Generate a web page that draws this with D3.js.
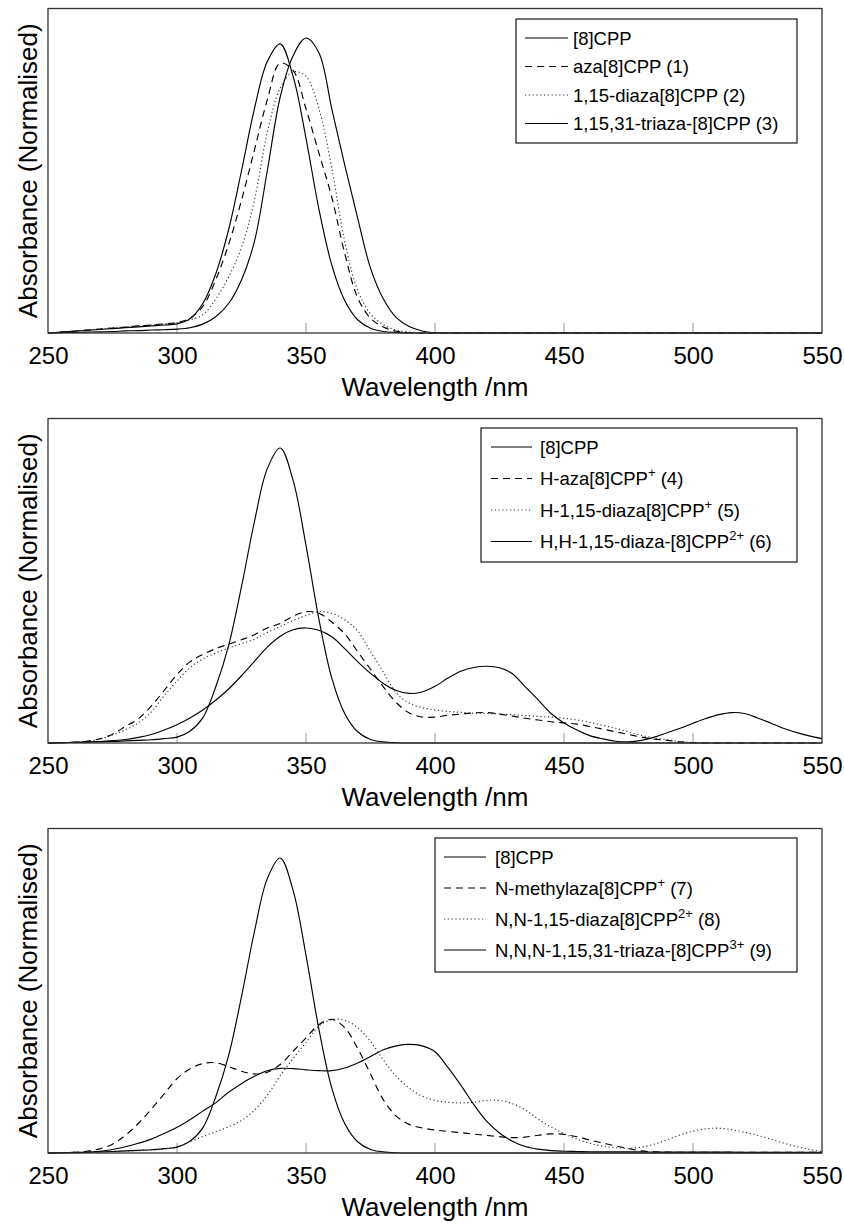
<!DOCTYPE html>
<html>
<head>
<meta charset="utf-8">
<script src="https://cdn.jsdelivr.net/npm/d3@7"></script>
<style>
  body { margin: 0; background: #fff; }
  svg { display: block; }
  text { font-family: "Liberation Sans", Arial, Helvetica, sans-serif; fill: #000; }
</style>
</head>
<body>
<svg id="chart" width="844" height="1227"></svg>
<script>
// wavelength grid (nm)
const wavelength = [250,255,260,265,270,275,280,285,290,295,300,305,310,315,320,325,330,335,340,345,
  350,355,360,365,370,375,380,385,390,395,400,405,410,415,420,425,430,435,440,445,
  450,455,460,465,470,475,480,485,490,495,500,505,510,515,520,525,530,535,540,545,550];

// panel 1
const cppTop = [0,0.003,0.006,0.009,0.012,0.015,0.018,0.021,0.024,0.027,0.031,0.048,0.1,0.2,0.35,0.55,0.76,0.92,0.98,0.87,
  0.66,0.42,0.23,0.11,0.045,0.016,0.005,0.002,0,0,0,0,0,0,0,0,0,0,0,0,
  0,0,0,0,0,0,0,0,0,0,0,0,0,0,0,0,0,0,0,0,0];
const aza1 = [0,0.003,0.006,0.01,0.013,0.017,0.02,0.024,0.027,0.031,0.035,0.05,0.09,0.18,0.3,0.45,0.62,0.79,0.915,0.89,
  0.76,0.61,0.46,0.27,0.12,0.05,0.02,0.006,0.001,0,0,0,0,0,0,0,0,0,0,0,
  0,0,0,0,0,0,0,0,0,0,0,0,0,0,0,0,0,0,0,0,0];
const diaza2 = [0,0.003,0.006,0.01,0.013,0.017,0.02,0.024,0.027,0.031,0.035,0.045,0.062,0.115,0.19,0.29,0.45,0.68,0.83,0.885,
  0.87,0.76,0.56,0.31,0.145,0.065,0.028,0.01,0.003,0,0,0,0,0,0,0,0,0,0,0,
  0,0,0,0,0,0,0,0,0,0,0,0,0,0,0,0,0,0,0,0,0];
const triaza3 = [0,0.001,0.002,0.003,0.004,0.005,0.007,0.008,0.01,0.011,0.013,0.018,0.03,0.055,0.1,0.18,0.31,0.55,0.8,0.94,
  1.0,0.95,0.76,0.57,0.39,0.22,0.115,0.052,0.022,0.007,0.001,0,0,0,0,0,0,0,0,0,
  0,0,0,0,0,0,0,0,0,0,0,0,0,0,0,0,0,0,0,0,0];

// panels 2 and 3 reference
const cpp8 = [0,0.001,0.002,0.003,0.004,0.005,0.007,0.009,0.011,0.015,0.02,0.04,0.085,0.19,0.33,0.53,0.75,0.93,1.0,0.89,
  0.67,0.42,0.22,0.1,0.038,0.012,0.004,0.001,0,0,0,0,0,0,0,0,0,0,0,0,
  0,0,0,0,0,0,0,0,0,0,0,0,0,0,0,0,0,0,0,0,0];

// panel 2
const hAza4 = [0,0.001,0.002,0.006,0.014,0.03,0.056,0.082,0.125,0.178,0.232,0.275,0.3,0.32,0.335,0.35,0.367,0.39,0.405,0.43,
  0.445,0.44,0.41,0.37,0.31,0.25,0.19,0.137,0.102,0.088,0.088,0.094,0.098,0.102,0.103,0.098,0.091,0.084,0.078,0.072,
  0.068,0.064,0.056,0.047,0.038,0.029,0.02,0.013,0.009,0.004,0.001,0,0,0,0,0,0,0,0,0,0];
const hDiaza5 = [0,0.001,0.002,0.006,0.013,0.027,0.045,0.068,0.105,0.16,0.21,0.255,0.285,0.305,0.322,0.337,0.352,0.375,0.395,0.415,
  0.432,0.445,0.44,0.418,0.38,0.31,0.24,0.17,0.135,0.12,0.112,0.107,0.104,0.101,0.1,0.098,0.096,0.093,0.09,0.088,
  0.084,0.078,0.07,0.06,0.05,0.038,0.026,0.017,0.011,0.005,0.002,0,0,0,0,0,0,0,0,0,0];
const hhDiaza6 = [0,0.001,0.002,0.003,0.005,0.008,0.012,0.019,0.029,0.044,0.062,0.085,0.112,0.145,0.183,0.228,0.277,0.325,0.362,0.384,
  0.39,0.382,0.36,0.32,0.276,0.236,0.202,0.178,0.168,0.173,0.192,0.22,0.243,0.256,0.26,0.255,0.235,0.19,0.146,0.1,
  0.068,0.044,0.025,0.014,0.006,0.004,0.009,0.02,0.035,0.05,0.067,0.083,0.096,0.103,0.1,0.085,0.068,0.05,0.036,0.024,0.015];

// panel 3
const nMethyl7 = [0,0.001,0.002,0.006,0.014,0.03,0.06,0.1,0.148,0.2,0.252,0.285,0.303,0.306,0.293,0.277,0.268,0.274,0.3,0.345,
  0.39,0.435,0.453,0.425,0.355,0.268,0.18,0.125,0.097,0.085,0.078,0.073,0.069,0.064,0.06,0.055,0.052,0.054,0.06,0.065,
  0.063,0.055,0.044,0.034,0.024,0.015,0.007,0.004,0.003,0.002,0.002,0.002,0.002,0.002,0.002,0.002,0.002,0.002,0.002,0.002,0.002];
const nnDiaza8 = [0,0.001,0.001,0.002,0.003,0.004,0.006,0.008,0.01,0.013,0.02,0.038,0.056,0.072,0.089,0.11,0.145,0.196,0.262,0.32,
  0.375,0.43,0.452,0.45,0.425,0.378,0.315,0.26,0.22,0.193,0.178,0.172,0.17,0.172,0.178,0.178,0.167,0.146,0.115,0.088,
  0.066,0.047,0.033,0.023,0.018,0.016,0.02,0.03,0.045,0.061,0.074,0.082,0.084,0.079,0.07,0.06,0.047,0.034,0.022,0.012,0.005];
const nnnTriaza9 = [0,0.001,0.001,0.002,0.006,0.012,0.021,0.033,0.047,0.066,0.087,0.113,0.142,0.17,0.206,0.235,0.26,0.279,0.287,0.286,
  0.282,0.279,0.279,0.288,0.305,0.327,0.35,0.363,0.368,0.363,0.343,0.29,0.23,0.165,0.108,0.068,0.04,0.022,0.013,0.008,
  0.006,0.005,0.004,0.004,0.004,0.004,0.004,0.003,0.003,0.003,0.003,0.003,0.003,0.003,0.002,0.002,0.002,0.002,0.002,0.002,0.002];

const xTicks = [250, 300, 350, 400, 450, 500, 550];

const legend1 = [[{t: "[8]CPP"}], [{t: "aza[8]CPP (1)"}], [{t: "1,15-diaza[8]CPP (2)"}], [{t: "1,15,31-triaza-[8]CPP (3)"}]];
const legend2 = [[{t: "[8]CPP"}], [{t: "H-aza[8]CPP"}, {t: "+", sup: true}, {t: " (4)"}],
  [{t: "H-1,15-diaza[8]CPP"}, {t: "+", sup: true}, {t: " (5)"}],
  [{t: "H,H-1,15-diaza-[8]CPP"}, {t: "2+", sup: true}, {t: " (6)"}]];
const legend3 = [[{t: "[8]CPP"}], [{t: "N-methylaza[8]CPP"}, {t: "+", sup: true}, {t: " (7)"}],
  [{t: "N,N-1,15-diaza[8]CPP"}, {t: "2+", sup: true}, {t: " (8)"}],
  [{t: "N,N,N-1,15,31-triaza-[8]CPP"}, {t: "3+", sup: true}, {t: " (9)"}]];

const styles = ["solid", "dashed", "dotted", "solid"];
const dashOf = { solid: null, dashed: "7,5", dotted: "1.2,2.6" };

const panels = [
  { bottom: 333, series: [cppTop, aza1, diaza2, triaza3], labels: legend1,
    box: [516, 19, 281, 124], rows: [38, 66.5, 95, 123.5], line: [525, 568], textX: 573 },
  { bottom: 743, series: [cpp8, hAza4, hDiaza5, hhDiaza6], labels: legend2,
    box: [481, 428, 316, 134], rows: [447, 478.5, 510, 541.5], line: [491, 532], textX: 540 },
  { bottom: 1153, series: [cpp8, nMethyl7, nnDiaza8, nnnTriaza9], labels: legend3,
    box: [435, 838, 362, 134], rows: [857, 888, 919, 950], line: [444, 486], textX: 495 }
];

const svg = d3.select("#chart");
const left = 48, right = 822, plotH = 324.5;
const x = d3.scaleLinear().domain([250, 550]).range([left, right]);

panels.forEach((p, i) => {
  const top = p.bottom - plotH;
  const y = d3.scaleLinear().domain([0, 1.1]).range([p.bottom, top]);
  const g = svg.append("g");

  const clipId = "clip" + i;
  g.append("clipPath").attr("id", clipId)
    .append("rect").attr("x", left).attr("y", top).attr("width", right - left).attr("height", plotH + 1);

  // tick labels from the axis, tick marks drawn inside the frame
  const axis = d3.axisBottom(x).tickValues(xTicks).tickSize(0).tickPadding(0).tickFormat(d3.format("d"));
  const ag = g.append("g").attr("transform", `translate(0,${p.bottom})`).call(axis);
  ag.select(".domain").remove();
  ag.selectAll("text").attr("font-size", 24).attr("dy", null).attr("y", 31)
    .style("font-family", '"Liberation Sans", Arial, sans-serif').attr("fill", "#000");
  g.selectAll(".tk").data(xTicks.slice(1, -1)).enter().append("line")
    .attr("x1", d => x(d)).attr("x2", d => x(d))
    .attr("y1", p.bottom).attr("y2", p.bottom - 10)
    .attr("stroke", "#999").attr("stroke-width", 1);

  const line = d3.line()
    .x((d, k) => x(wavelength[k]))
    .y(d => y(d))
    .curve(d3.curveCatmullRom.alpha(0.5));

  const cg = g.append("g").attr("clip-path", `url(#${clipId})`);
  p.series.forEach((vals, k) => {
    cg.append("path").datum(vals)
      .attr("d", line)
      .attr("fill", "none")
      .attr("stroke", styles[k] === "dotted" ? "#333" : "#000")
      .attr("stroke-width", 1.15)
      .attr("stroke-dasharray", dashOf[styles[k]]);
  });

  // frame
  g.append("rect").attr("x", left).attr("y", top).attr("width", right - left).attr("height", plotH)
    .attr("fill", "none").attr("stroke", "#333").attr("stroke-width", 1.3);

  // axis titles
  g.append("text").attr("x", (left + right) / 2).attr("y", p.bottom + 63)
    .attr("text-anchor", "middle").attr("font-size", 26).text("Wavelength /nm");
  g.append("text")
    .attr("transform", `translate(37,${(top + p.bottom) / 2}) rotate(-90)`)
    .attr("text-anchor", "middle").attr("font-size", 26).text("Absorbance (Normalised)");

  // legend
  const [bx, by, bw, bh] = p.box;
  g.append("rect").attr("x", bx).attr("y", by).attr("width", bw).attr("height", bh)
    .attr("fill", "#fff").attr("stroke", "#000").attr("stroke-width", 1.1);
  p.labels.forEach((segs, k) => {
    const ry = p.rows[k];
    g.append("line").attr("x1", p.line[0]).attr("x2", p.line[1]).attr("y1", ry).attr("y2", ry)
      .attr("stroke", styles[k] === "dotted" ? "#333" : "#000").attr("stroke-width", 1.1)
      .attr("stroke-dasharray", dashOf[styles[k]]);
    const t = g.append("text").attr("x", p.textX).attr("y", ry + 6.5).attr("font-size", 18.5);
    let raised = false;
    segs.forEach(s => {
      const ts = t.append("tspan").text(s.t);
      if (s.sup) { ts.attr("font-size", 13).attr("dy", -8); raised = true; }
      else if (raised) { ts.attr("dy", 8); raised = false; }
    });
  });
});
</script>
</body>
</html>
